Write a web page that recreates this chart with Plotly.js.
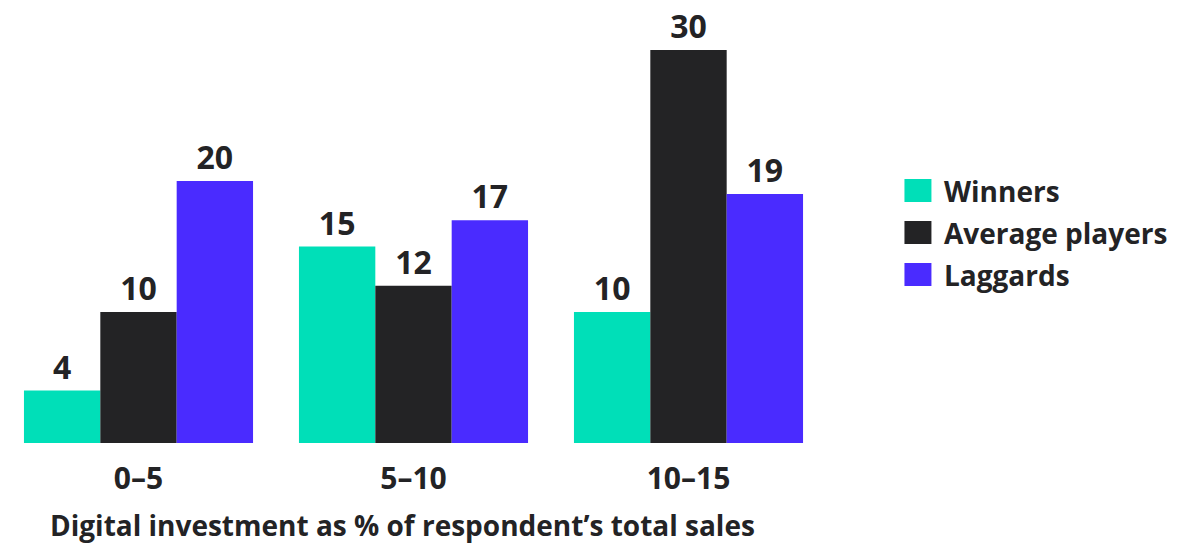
<!DOCTYPE html>
<html><head><meta charset="utf-8">
<script src="https://cdn.plot.ly/plotly-3.0.1.min.js"></script>
<style>html,body{margin:0;padding:0;background:#fff}#c{width:1192px;height:544px}</style>
</head><body><div id="c"></div>
<script>
const categories = ["0–5", "5–10", "10–15"];
const seriesNames = ["Winners", "Average players", "Laggards"];
const winners = [4, 15, 10];
const averagePlayers = [10, 12, 30];
const laggards = [20, 17, 19];
const colors = ["#00DFB8", "#232325", "#4A2BFF"];
const xTitle = "Digital investment as % of respondent’s total sales";

const FONT = "Open Sans, Noto Sans, sans-serif";
const TXT = "#232325";
const values = [winners, averagePlayers, laggards];

const traces = values.map((v, i) => ({
  type: "bar", x: categories, y: v, name: seriesNames[i],
  marker: {color: colors[i], line: {width: 0}},
  text: v.map(String), textposition: "outside",
  textfont: {family: FONT, size: 32, color: TXT, weight: 700},
  cliponaxis: false, showlegend: false, hoverinfo: "skip"
}));

const shapes = [], annotations = [];
seriesNames.forEach((n, i) => {
  const yc = 191 + i * 42; // legend row centre in px
  shapes.push({type: "rect", xref: "paper", yref: "paper",
    x0: (905 - 1) / 825.5, x1: (932 - 1) / 825.5,
    y0: (443 - (yc + 11)) / 393, y1: (443 - (yc - 12)) / 393,
    fillcolor: colors[i], line: {width: 0}});
  annotations.push({xref: "paper", yref: "paper", x: (943 - 1) / 825.5,
    y: (443 - yc) / 393, xanchor: "left", yanchor: "middle", showarrow: false,
    text: "<b>" + n + "</b>", font: {family: FONT, size: 28, color: TXT}});
});
annotations.push({xref: "paper", yref: "paper", x: (48 - 1) / 825.5, y: (443 - 525) / 393,
  xanchor: "left", yanchor: "middle", showarrow: false,
  text: "<b>" + xTitle + "</b>", font: {family: FONT, size: 28, color: TXT}});

const layout = {
  width: 1192, height: 544,
  margin: {l: 1, r: 365.5, t: 50, b: 101},
  paper_bgcolor: "#fff", plot_bgcolor: "#fff",
  barmode: "group", bargap: 0.167, bargroupgap: 0,
  showlegend: false,
  xaxis: {type: "category", showgrid: false, zeroline: false, showline: false,
    ticks: "", tickfont: {family: FONT, size: 30, color: TXT, weight: 700}, ticklabelstandoff: 15},
  yaxis: {range: [0, 30], visible: false, showgrid: false, zeroline: false},
  shapes: shapes, annotations: annotations, font: {family: FONT}
};
Plotly.newPlot("c", traces, layout, {displayModeBar: false, staticPlot: true});
</script></body></html>
